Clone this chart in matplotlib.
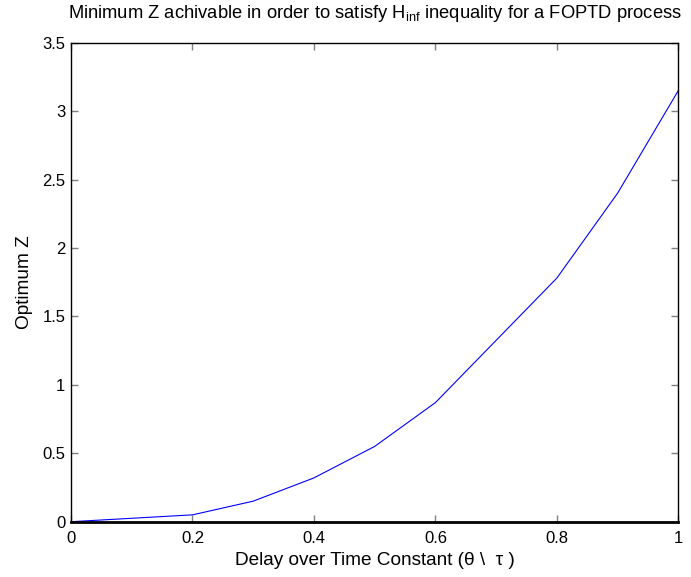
import matplotlib
matplotlib.use("Agg")
import matplotlib.pyplot as plt

ratio = [0.0, 0.2, 0.3, 0.4, 0.5, 0.6, 0.8, 0.9, 1.0]
opt_z = [0.0, 0.05, 0.15, 0.32, 0.55, 0.87, 1.78, 2.40, 3.15]
xticks = [0, 0.2, 0.4, 0.6, 0.8, 1]
xticklabels = ["0", "0.2", "0.4", "0.6", "0.8", "1"]
yticks = [0, 0.5, 1, 1.5, 2, 2.5, 3, 3.5]
yticklabels = ["0", "0.5", "1", "1.5", "2", "2.5", "3", "3.5"]

plt.rcParams['font.family'] = ['Liberation Sans', 'DejaVu Sans']
plt.rcParams['mathtext.fontset'] = 'custom'
plt.rcParams['mathtext.rm'] = 'Liberation Sans'
plt.rcParams['mathtext.it'] = 'Liberation Sans'

fig = plt.figure(figsize=(6.91, 5.77), dpi=100)
ax = fig.add_axes([71/691, 1 - 521.7/577, (678.3-71)/691, (521.7-42.7)/577])
ax.plot(ratio, opt_z, color='#0000ff', linewidth=0.8)
ax.set_xlim(0, 1)
ax.set_ylim(0, 3.5)
ax.set_xticks(xticks)
ax.set_xticklabels(xticklabels)
ax.set_yticks(yticks)
ax.set_yticklabels(yticklabels)
ax.tick_params(direction='in', length=5, width=1, color='#808080', labelsize=12,
               top=True, right=True)
ax.tick_params(axis='x', pad=7)
ax.tick_params(axis='y', pad=4)
for s in ax.spines.values():
    s.set_linewidth(1.0)
    s.set_color('black')
ax.spines['bottom'].set_linewidth(2.0)
ax.set_xlabel("Delay over Time Constant (\u03b8 \\  \u03c4 )", fontsize=13.7, labelpad=4)
ax.set_ylabel("Optimum Z", fontsize=13.7, labelpad=7)
ax.set_title(r"Minimum Z achivable in order to satisfy H$_{\mathrm{inf}}$ inequality for a FOPTD process",
             fontsize=13.2, pad=18)
fig.savefig("out.png", dpi=100)
